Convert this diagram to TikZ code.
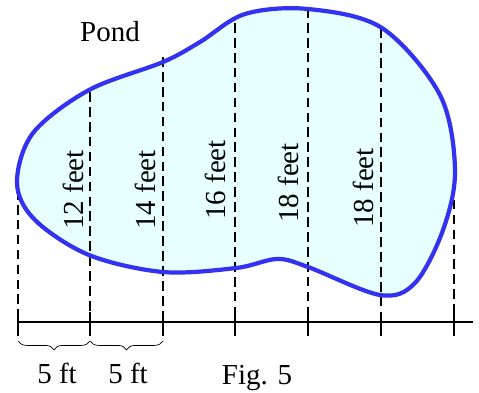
\documentclass[tikz,border=0pt]{standalone}
\usepackage{fontspec}
\setmainfont{Liberation Serif}
\usetikzlibrary{decorations.pathreplacing}
\definecolor{pondblue}{RGB}{50,50,240}
\definecolor{pondfill}{RGB}{232,255,255}

\begin{document}
\begin{tikzpicture}[x=0.02cm,y=-0.02cm,
  lbl/.style={font=\fontsize{16.5}{19}\selectfont,inner sep=0pt},
  strip/.style={black,line width=0.6pt,dash pattern=on 5.5pt off 3pt},
  brc/.style={decorate,decoration={brace,mirror,amplitude=5pt},thin}]
\useasboundingbox (0,0) rectangle (479,392);
% staw
\fill[pondfill] plot[smooth cycle,tension=0.55] coordinates {
  (17,183) (33,133) (89,90) (163,62) (200,42) (245,14) (308,9) (382,28)
  (440,95) (455,170) (443,230) (415,283) (380,295) (308,267) (277,259)
  (236,268) (163,272) (89,255) (35,220)};
% paski co 5 ft
\foreach \x/\t in {18/175,90/92,163/57,235/23,308/8,381/28,454/140}{
  \draw[strip] (\x,\t) -- (\x,312);
  \draw[line width=0.6pt] (\x,312) -- (\x,336);
}
\draw[pondblue,line width=2.4pt] plot[smooth cycle,tension=0.55] coordinates {
  (17,183) (33,133) (89,90) (163,62) (200,42) (245,14) (308,9) (382,28)
  (440,95) (455,170) (443,230) (415,283) (380,295) (308,267) (277,259)
  (236,268) (163,272) (89,255) (35,220)};
% oś
\draw[line width=0.6pt] (18,322) -- (473,322);
\draw[brc] (18,341) -- (90,341);
\draw[brc] (90,341) -- (163,341);
% opisy
\node[lbl] (pond) at (110,32) {Pond};
\node[lbl,rotate=90] (w1) at (73,190) {12 feet};
\node[lbl,rotate=90] (w2) at (145,190) {14 feet};
\node[lbl,rotate=90] (w3) at (215,180) {16 feet};
\node[lbl,rotate=90] (w4) at (288,183) {18 feet};
\node[lbl,rotate=90] (w5) at (363,188) {18 feet};
\node[lbl] (d1) at (57,373) {5 ft};
\node[lbl] (d2) at (128,373) {5 ft};
\node[lbl] (fig) at (257,378) {Fig. 5};
\end{tikzpicture}
\end{document}
